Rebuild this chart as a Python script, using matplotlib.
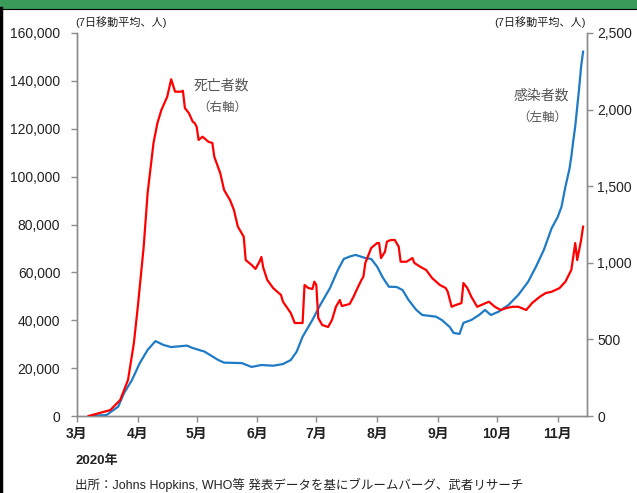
import pandas as pd
import matplotlib.pyplot as plt
import matplotlib.dates as mdates
from matplotlib.ticker import FuncFormatter

plt.rcParams['font.family'] = ['Liberation Sans', 'Noto Sans CJK JP', 'DejaVu Sans']

# 感染者数 (左軸, 7日移動平均)
inf_dates = ['2020-03-07', '2020-03-16', '2020-03-22', '2020-03-25', '2020-03-29', '2020-04-02',
             '2020-04-06', '2020-04-10', '2020-04-14', '2020-04-18', '2020-04-26', '2020-04-29',
             '2020-05-05', '2020-05-12', '2020-05-15', '2020-05-24', '2020-05-29', '2020-06-03',
             '2020-06-09', '2020-06-14', '2020-06-18', '2020-06-21', '2020-06-24', '2020-06-29',
             '2020-07-03', '2020-07-08', '2020-07-12', '2020-07-15', '2020-07-18', '2020-07-21',
             '2020-07-26', '2020-07-29', '2020-08-01', '2020-08-04', '2020-08-07', '2020-08-11',
             '2020-08-14', '2020-08-17', '2020-08-21', '2020-08-24', '2020-08-31', '2020-09-03',
             '2020-09-07', '2020-09-09', '2020-09-12', '2020-09-14', '2020-09-18', '2020-09-22',
             '2020-09-25', '2020-09-28', '2020-10-02', '2020-10-07', '2020-10-12', '2020-10-17',
             '2020-10-21', '2020-10-25', '2020-10-29', '2020-11-01', '2020-11-03', '2020-11-05',
             '2020-11-07', '2020-11-08', '2020-11-09', '2020-11-10', '2020-11-11', '2020-11-12',
             '2020-11-13', '2020-11-14']
inf_vals = [0, 400, 3900, 9600, 15000, 22100,
            27600, 31300, 29700, 28800, 29400, 28400,
            26900, 23400, 22300, 22100, 20500, 21300,
            21000, 21700, 23400, 26900, 33100, 40100,
            46400, 53500, 61000, 65600, 66600, 67300,
            66000, 65600, 62400, 57700, 54000, 53900,
            52600, 48500, 44300, 42200, 41500, 40100,
            37200, 34700, 34300, 38900, 40100, 42200,
            44300, 42200, 43600, 46400, 50600, 56100,
            62400, 69400, 78500, 83000, 87400, 95800,
            103000, 108300, 115000, 121000, 129000, 137000,
            146000, 152200]

# 死亡者数 (右軸, 7日移動平均)
death_dates = ['2020-03-07', '2020-03-18', '2020-03-23', '2020-03-27', '2020-03-30', '2020-04-01',
               '2020-04-04', '2020-04-06', '2020-04-09', '2020-04-11', '2020-04-13', '2020-04-16',
               '2020-04-18', '2020-04-20', '2020-04-23', '2020-04-24', '2020-04-25', '2020-04-27',
               '2020-04-29', '2020-04-30', '2020-05-01', '2020-05-02', '2020-05-04', '2020-05-07',
               '2020-05-09', '2020-05-10', '2020-05-13', '2020-05-15', '2020-05-17', '2020-05-18',
               '2020-05-20', '2020-05-22', '2020-05-25', '2020-05-26', '2020-05-29', '2020-05-31',
               '2020-06-02', '2020-06-03', '2020-06-04', '2020-06-06', '2020-06-09', '2020-06-13',
               '2020-06-14', '2020-06-18', '2020-06-20', '2020-06-24', '2020-06-25', '2020-06-27',
               '2020-06-29', '2020-06-30', '2020-07-01', '2020-07-02', '2020-07-04', '2020-07-07',
               '2020-07-09', '2020-07-11', '2020-07-13', '2020-07-14', '2020-07-18', '2020-07-20',
               '2020-07-22', '2020-07-24', '2020-07-25', '2020-07-26', '2020-07-29', '2020-08-01',
               '2020-08-02', '2020-08-03', '2020-08-05', '2020-08-06', '2020-08-08', '2020-08-10',
               '2020-08-12', '2020-08-13', '2020-08-16', '2020-08-19', '2020-08-20', '2020-08-23',
               '2020-08-26', '2020-08-29', '2020-09-02', '2020-09-05', '2020-09-06', '2020-09-08',
               '2020-09-10', '2020-09-13', '2020-09-14', '2020-09-16', '2020-09-18', '2020-09-21',
               '2020-09-27', '2020-09-30', '2020-10-03', '2020-10-06', '2020-10-09', '2020-10-12',
               '2020-10-16', '2020-10-19', '2020-10-23', '2020-10-26', '2020-10-29', '2020-11-02',
               '2020-11-05', '2020-11-08', '2020-11-10', '2020-11-11', '2020-11-13', '2020-11-14']
death_vals = [0, 39, 104, 235, 476, 713,
              1105, 1455, 1782, 1912, 1997, 2084,
              2198, 2117, 2117, 2123, 2010, 1978,
              1921, 1912, 1888, 1802, 1823, 1790,
              1782, 1692, 1586, 1475, 1431, 1410,
              1345, 1236, 1170, 1018, 986, 960,
              1007, 1038, 966, 888, 835, 790,
              746, 672, 607, 607, 855, 835,
              829, 877, 855, 640, 594, 581,
              627, 713, 757, 718, 731, 779,
              835, 888, 909, 999, 1097, 1129,
              1129, 1031, 1072, 1138, 1149, 1149,
              1105, 1007, 1007, 1031, 999, 974,
              953, 901, 855, 835, 811, 713,
              724, 737, 868, 835, 779, 713,
              746, 713, 692, 705, 713, 713,
              692, 737, 779, 803, 811, 835,
              877, 953, 1129, 1018, 1149, 1236]

left_ticks = [0, 20000, 40000, 60000, 80000, 100000, 120000, 140000, 160000]
right_ticks = [0, 500, 1000, 1500, 2000, 2500]

txt = '#222222'
spine_c = '#8c8c8c'

fig = plt.figure(figsize=(6.37, 4.93), dpi=100)
ax = fig.add_axes([77 / 637, 1 - 416 / 493, 510 / 637, 383 / 493])
ax2 = ax.twinx()

ax.plot(pd.to_datetime(inf_dates), inf_vals, color='#1f7bc6', lw=1.6, zorder=3)
ax2.plot(pd.to_datetime(death_dates), death_vals, color='#ff0000', lw=1.6, zorder=3)

ax.set_xlim(pd.Timestamp('2020-03-01'), pd.Timestamp('2020-11-16'))
ax.set_ylim(0, 160000)
ax2.set_ylim(0, 2500)
ax.set_yticks(left_ticks)
ax2.set_yticks(right_ticks)
fmt = FuncFormatter(lambda v, p: f'{int(v):,}')
ax.yaxis.set_major_formatter(fmt)
ax2.yaxis.set_major_formatter(fmt)

ax.xaxis.set_major_locator(mdates.MonthLocator())
ax.xaxis.set_major_formatter(FuncFormatter(lambda v, p: f'{mdates.num2date(v).month}月'))

for a in (ax, ax2):
    a.spines['top'].set_visible(False)
    for s in ('left', 'right', 'bottom'):
        a.spines[s].set_color(spine_c)
        a.spines[s].set_linewidth(1.0)
    a.tick_params(colors=spine_c, labelcolor=txt, labelsize=10, length=4, width=1)
ax.tick_params(axis='x', pad=4)
ax.tick_params(axis='y', pad=8)
for lab in ax.get_xticklabels():
    lab.set_fontweight('bold')

# 軸の単位
fig.text(75 / 637, 1 - 22 / 493, '(7日移動平均、人)', fontsize=8, color=txt, va='center', ha='left')
fig.text(586 / 637, 1 - 22 / 493, '(7日移動平均、人)', fontsize=8, color=txt, va='center', ha='right')

# 系列のラベル
fig.text(221 / 637, 1 - 86 / 493, '死亡者数', fontsize=10, color='#555555', ha='center', va='center')
fig.text(222 / 637, 1 - 108 / 493, '（右軸）', fontsize=9, color='#555555', ha='center', va='center')
fig.text(541 / 637, 1 - 96 / 493, '感染者数', fontsize=10, color='#555555', ha='center', va='center')
fig.text(542 / 637, 1 - 118 / 493, '（左軸）', fontsize=9, color='#555555', ha='center', va='center')

fig.text(75 / 637, 1 - 461 / 493, '2020年', fontsize=9.5, fontweight='bold', color=txt, va='center')
fig.text(75 / 637, 1 - 485 / 493, '出所：Johns Hopkins, WHO等 発表データを基にブルームバーグ、武者リサーチ',
         fontsize=9, color=txt, va='center')

# 上の帯と枠線
fig.patches.append(plt.Rectangle((0, 1 - 8 / 493), 1, 8 / 493, transform=fig.transFigure,
                                 color='#3a9a5a', zorder=0))
fig.lines.append(plt.Line2D([0, 1], [1 - 8.5 / 493] * 2, transform=fig.transFigure, color='black', lw=0.8))
fig.lines.append(plt.Line2D([1.5 / 637] * 2, [0, 1 - 8 / 493], transform=fig.transFigure, color='black', lw=2.5))

plt.savefig('out.png', dpi=100)
